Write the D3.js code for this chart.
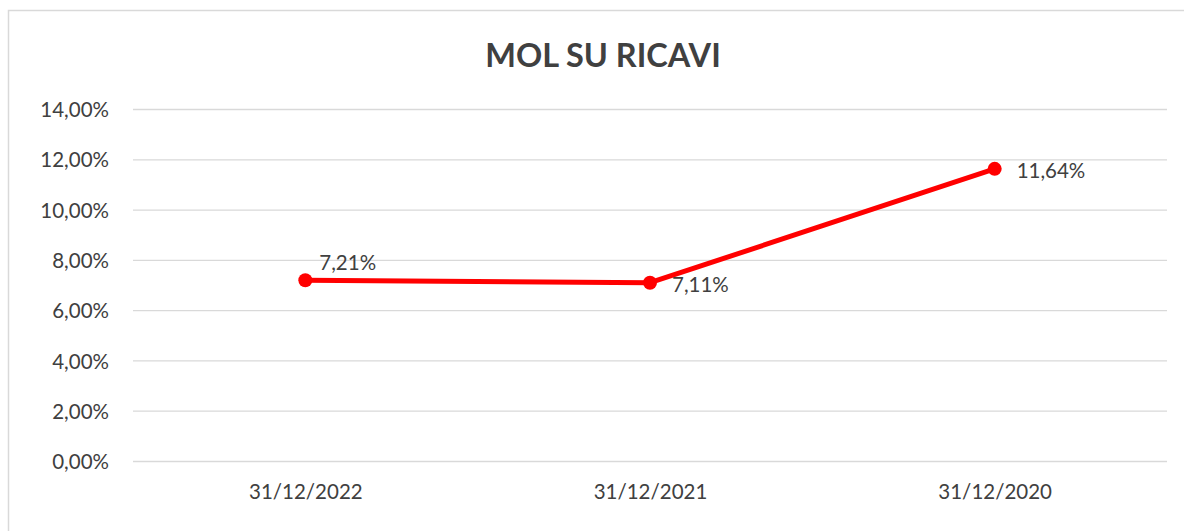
<!DOCTYPE html>
<html>
<head>
<meta charset="utf-8" />
<title>MOL SU RICAVI</title>
<script src="https://cdn.jsdelivr.net/npm/d3@7"></script>
<style>
body { margin:0; background:#fff; }
svg text { font-family: Lato, "Open Sans", sans-serif; fill:#404040; }
</style>
</head>
<body>
<div id="chart"></div>
<script>
const title = "MOL SU RICAVI";
const categories = ["31/12/2022", "31/12/2021", "31/12/2020"];
const values = [7.21, 7.11, 11.64];
const labelPos = ["above", "right", "right"]; // excel-ish data label placement
const yTicks = [0, 2, 4, 6, 8, 10, 12, 14];

const width = 1184, height = 531;
const margin = {top: 110, right: 17, bottom: 69, left: 133};
const fs = "20.5px";

const svg = d3.select("#chart").append("svg")
	.attr("width", width)
	.attr("height", height);

// chart frame
svg.append("rect")
	.attr("x", 8.5).attr("y", 10.5)
	.attr("width", width + 20).attr("height", height + 20)
	.attr("fill", "none")
	.attr("stroke", "#d9d9d9")
	.attr("stroke-width", 1.5);

svg.append("text")
	.attr("x", 603).attr("y", 67)
	.attr("text-anchor", "middle")
	.style("font-size", "32.5px")
	.style("font-weight", "bold")
	.text(title);

const x = d3.scalePoint()
	.domain(categories)
	.range([margin.left, width - margin.right])
	.padding(0.5);

const y = d3.scaleLinear()
	.domain([0, 14])
	.range([height - margin.bottom - 0.5, margin.top - 0.5]);

const fmt = v => d3.format(".2f")(v).replace(".", ",") + "%";

// gridlines
svg.append("g").selectAll("line")
	.data(yTicks)
	.enter().append("line")
		.attr("x1", margin.left).attr("x2", width - margin.right)
		.attr("y1", d => y(d)).attr("y2", d => y(d))
		.attr("stroke", "#d9d9d9")
		.attr("stroke-width", 1.3);

// y axis labels
const yAxis = svg.append("g")
	.attr("transform", "translate(" + (margin.left - 24) + ",0)")
	.call(d3.axisLeft(y).tickValues(yTicks).tickFormat(fmt).tickSize(0).tickPadding(0));
yAxis.select(".domain").remove();
yAxis.selectAll("text")
	.style("font-size", fs)
	.attr("fill", "#404040")
	.attr("dy", "0.35em");

// x axis labels
const xAxis = svg.append("g")
	.attr("transform", "translate(0," + (height - margin.bottom) + ")")
	.call(d3.axisBottom(x).tickSize(0).tickPadding(22));
xAxis.select(".domain").remove();
xAxis.selectAll("text")
	.style("font-size", fs)
	.attr("fill", "#404040");

const pts = categories.map((c, i) => ({c: c, v: values[i], pos: labelPos[i]}));

svg.append("path")
	.datum(pts)
	.attr("fill", "none")
	.attr("stroke", "#ff0000")
	.attr("stroke-width", 5)
	.attr("stroke-linejoin", "round")
	.attr("d", d3.line().x(d => x(d.c)).y(d => y(d.v)));

svg.append("g").selectAll("circle")
	.data(pts)
	.enter().append("circle")
		.attr("cx", d => x(d.c))
		.attr("cy", d => y(d.v))
		.attr("r", 7)
		.attr("fill", "#ff0000");

svg.append("g").selectAll("text")
	.data(pts)
	.enter().append("text")
		.attr("x", d => x(d.c) + (d.pos === "above" ? 14 : 22))
		.attr("y", d => y(d.v) + (d.pos === "above" ? -10 : 9))
		.style("font-size", fs)
		.text(d => fmt(d.v));
</script>
</body>
</html>
